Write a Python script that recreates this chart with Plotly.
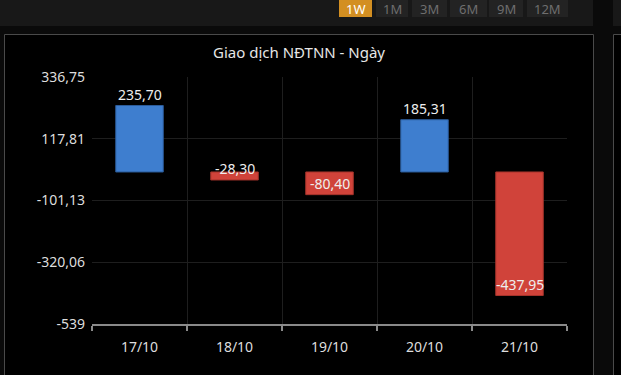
import plotly.graph_objects as go

categories = ["17/10", "18/10", "19/10", "20/10", "21/10"]
values = [235.70, -28.30, -80.40, 185.31, -437.95]
y_ticks = [336.75, 117.81, -101.13, -320.06, -539]
y_tick_labels = ["336,75", "117,81", "-101,13", "-320,06", "-539"]
title_text = "Giao dịch NĐTNN - Ngày"
buttons = ["1W", "1M", "3M", "6M", "9M", "12M"]

FONT = "Noto Sans, Open Sans, sans-serif"
BLUE = "#3e7ecf"
RED = "#d0433a"
BLUE_EDGE = "#2b5b99"
RED_EDGE = "#a5332b"

W, H = 621, 375
L, R, T, B = 92, 54, 77, 51
PW, PH = W - L - R, H - T - B


def px(x):
    return (x - L) / PW


def py(y):
    return (H - B - y) / PH


def fmt(v):
    return f"{v:.2f}".replace(".", ",")


fig = go.Figure()
fig.add_trace(go.Bar(
    x=categories,
    y=values,
    width=0.5,
    marker=dict(
        color=[BLUE if v >= 0 else RED for v in values],
        line=dict(color=[BLUE_EDGE if v >= 0 else RED_EDGE for v in values], width=1),
    ),
    hoverinfo="skip",
))

annotations = []
for c, v in zip(categories, values):
    annotations.append(dict(
        x=c, y=v, xref="x", yref="y", text=fmt(v), showarrow=False,
        yanchor="bottom", yshift=0, font=dict(family=FONT, size=14, color="#eeeeee"),
    ))

annotations.append(dict(
    x=px(298.5), y=py(52), xref="paper", yref="paper", text=title_text,
    showarrow=False, xanchor="center", yanchor="middle",
    font=dict(family=FONT, size=15, color="#e6e6e6"),
))

shapes = []
# top strip
shapes.append(dict(type="rect", xref="paper", yref="paper", x0=px(0), x1=px(593),
                   y0=py(26), y1=py(-5), fillcolor="#181818", line=dict(width=0), layer="below"))
shapes.append(dict(type="rect", xref="paper", yref="paper", x0=px(613), x1=px(630),
                   y0=py(26), y1=py(-5), fillcolor="#181818", line=dict(width=0), layer="below"))
# panels
shapes.append(dict(type="rect", xref="paper", yref="paper", x0=px(4.5), x1=px(593.5),
                   y0=py(390), y1=py(34.5), fillcolor="#000000",
                   line=dict(color="#4a4a4a", width=1), layer="below"))
shapes.append(dict(type="rect", xref="paper", yref="paper", x0=px(613.5), x1=px(640),
                   y0=py(390), y1=py(34.5), fillcolor="#000000",
                   line=dict(color="#4a4a4a", width=1), layer="below"))

btn_x = [(339, 372), (376, 408), (412, 447), (450, 487), (489, 523), (527, 568)]
for i, (b, (x0, x1)) in enumerate(zip(buttons, btn_x)):
    active = i == 0
    shapes.append(dict(type="rect", xref="paper", yref="paper", x0=px(x0), x1=px(x1),
                       y0=py(17), y1=py(-5),
                       fillcolor="#d38f22" if active else "#232323", line=dict(width=0), layer="below"))
    annotations.append(dict(
        x=px((x0 + x1) / 2), y=py(9.5), xref="paper", yref="paper", text=b,
        showarrow=False, xanchor="center", yanchor="middle", borderpad=0,
        font=dict(family=FONT, size=13, color="#ffffff" if active else "#6e6e6e"),
    ))

fig.update_layout(
    width=W, height=H,
    margin=dict(l=L, r=R, t=T, b=B),
    paper_bgcolor="#0a0a0a",
    plot_bgcolor="rgba(0,0,0,0)",
    showlegend=False,
    bargap=0.5,
    font=dict(family=FONT, size=14, color="#dddddd"),
    annotations=annotations,
    shapes=shapes,
    xaxis=dict(
        type="category", tickson="boundaries", showgrid=True, gridcolor="#1e1e1e", gridwidth=1,
        ticks="outside", ticklen=5, tickcolor="#8a8a8a", tickwidth=1.5,
        showline=True, linecolor="#8a8a8a", linewidth=1.5,
        ticklabelstandoff=9,
        tickfont=dict(family=FONT, size=14, color="#dddddd"), zeroline=False,
        fixedrange=True,
    ),
    yaxis=dict(
        range=[-539, 336.75], tickvals=y_ticks, ticktext=y_tick_labels,
        showgrid=True, gridcolor="#1e1e1e", gridwidth=1, zeroline=False,
        ticks="", ticklabelstandoff=6,
        tickfont=dict(family=FONT, size=14, color="#dddddd"), showline=False,
        fixedrange=True,
    ),
)

fig.write_html(
    "out.html",
    config={"displayModeBar": False},
    post_script="document.body.style.margin='0';document.body.style.background='#0a0a0a';document.body.style.overflow='hidden';",
)
